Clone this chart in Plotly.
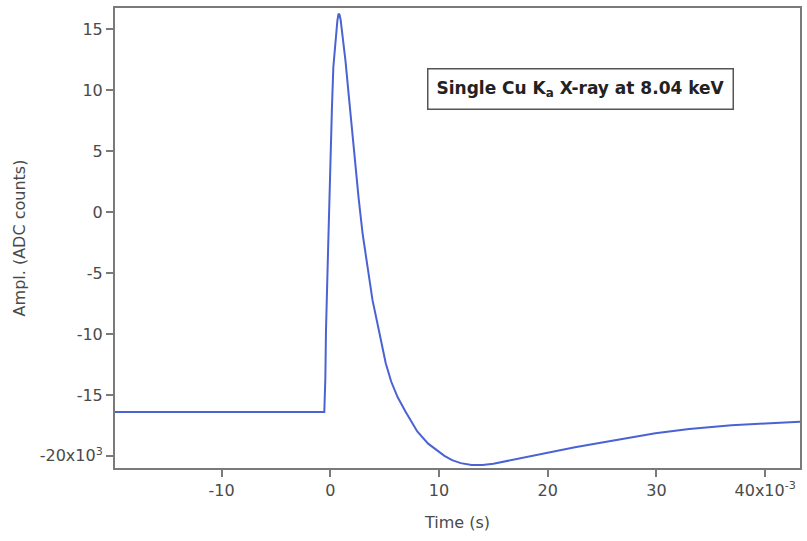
import plotly.graph_objects as go

# Time in units of 1e-3 s, amplitude in units of 1e3 ADC counts
time_ms = [-19.8, -0.55, -0.45, -0.4, -0.2, -0.03, 0.15, 0.28, 0.52, 0.65, 0.76, 0.85,
           0.95, 1.13, 1.4, 1.74, 2.0, 2.29, 2.6, 2.97, 3.4, 3.88, 4.4, 5.1, 5.6, 6.2,
           6.94, 8.0, 9.0, 9.7, 10.5, 11.2, 12.0, 13.0, 14.0, 15.0, 17.5, 20.1, 22.5,
           25.0, 27.5, 29.9, 33.0, 36.9, 40.0, 43.2]
ampl_k = [-16.4, -16.4, -13.5, -9.9, -3.0, 3.7, 8.5, 11.9, 14.6, 15.7, 16.3, 16.2,
          15.8, 14.6, 12.4, 9.2, 6.6, 3.7, 1.2, -1.75, -4.4, -7.2, -9.4, -12.4, -13.9,
          -15.2, -16.4, -18.0, -19.0, -19.5, -20.0, -20.35, -20.6, -20.75, -20.75,
          -20.65, -20.2, -19.7, -19.3, -18.9, -18.5, -18.15, -17.8, -17.5, -17.35, -17.2]

x_tickvals = [-10, 0, 10, 20, 30, 40]
x_ticktext = ["-10", "0", "10", "20", "30", "40x10<sup>-3</sup>"]
y_tickvals = [15, 10, 5, 0, -5, -10, -15, -20]
y_ticktext = ["15", "10", "5", "0", "-5", "-10", "-15", "-20x10<sup>3</sup>"]

fig = go.Figure()
fig.add_trace(go.Scatter(
    x=time_ms, y=ampl_k, mode="lines",
    line=dict(color="#4b62d4", width=2),
    showlegend=False,
))

axis_common = dict(
    showline=True, linecolor="#7a7a7a", linewidth=2, mirror=True,
    ticks="outside", ticklen=7, tickwidth=1.5, tickcolor="#7a7a7a",
    showgrid=False, zeroline=False,
    tickfont=dict(family="DejaVu Sans", size=16, color="#4a4a4a"),
    title_font=dict(family="DejaVu Sans", size=16, color="#4a4a4a"),
)

fig.update_xaxes(range=[-19.8, 43.2], tickvals=x_tickvals, ticktext=x_ticktext,
                 title_text="Time (s)", title_standoff=18, **axis_common)
fig.update_yaxes(range=[-21.0, 16.76], tickvals=y_tickvals, ticktext=y_ticktext,
                 title_text="Ampl. (ADC counts)", title_standoff=10, **axis_common)

fig.add_annotation(
    xref="paper", yref="paper", x=0.680, y=0.824,
    xanchor="center", yanchor="middle",
    text="Single Cu K<sub>a</sub> X-ray at 8.04 keV",
    showarrow=False,
    font=dict(family="DejaVu Sans", size=17, color="#222222", weight="bold"),
    bordercolor="#555555", borderwidth=1.5, borderpad=8, bgcolor="white",
)

fig.update_layout(
    width=807, height=541,
    margin=dict(l=115, r=5, t=8, b=73),
    plot_bgcolor="white", paper_bgcolor="white",
)

fig.write_html("out.html")
